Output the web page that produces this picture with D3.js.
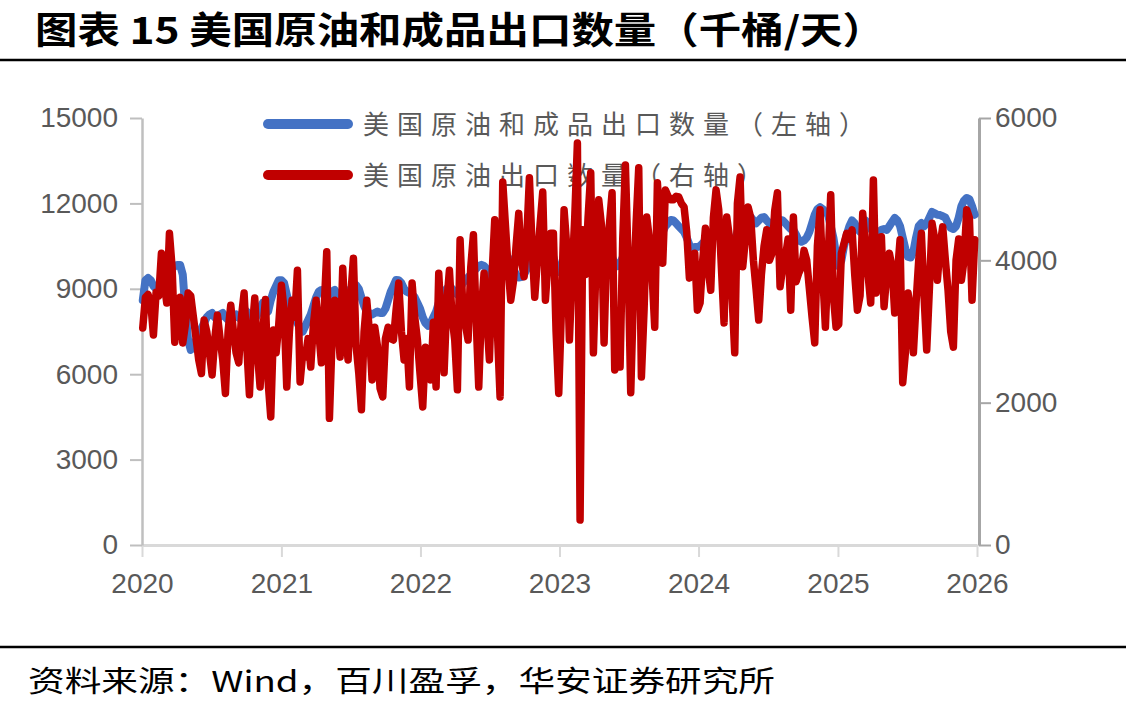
<!DOCTYPE html>
<html><head><meta charset="utf-8">
<script src="https://cdn.jsdelivr.net/npm/d3@7"></script>
<style>body{margin:0;background:#fff}svg{display:block}</style>
</head><body><svg id="c" width="1126" height="714"></svg>
<script>
// ---------- data (thousand barrels / day, weekly from first Friday of 2020) ----------
const startDate = "2020-01-03";
const crude2020 = [3050,3480,3520,3400,2950,3550,3500,4100,3700,3400,4380,3900,2850,3300,3480,2840,3100,3540,3500,3200,2900,2600,2410,3160,3000,2700,2390,2900,3230,2900,2600,2130,3000,3370,3000,2700,2560,3200,3540,2800,2110,3000,3470,2700,2220,3000,3450,2300,1800,3020,2700,3100];
const crude2021 = [3650,3300,2220,3000,3440,3200,3860,2290,2700,2640,2900,2500,3100,3440,3000,2560,3300,4120,1780,2900,3440,3200,2640,3890,3000,2600,3500,4030,2800,2420,1900,3000,3440,3000,2320,3060,2800,2200,2080,2900,3060,2900,2880,3300,3680,3000,2600,2900,2220,3680,3200,2880];
const crude2022 = [2400,1940,2780,2600,2320,3130,2220,3820,3100,2420,3400,3860,3200,2880,2180,4290,3350,3100,2880,3900,4360,3200,2220,3300,3820,3200,2600,3800,4570,3000,2080,5100,4500,3900,3440,3700,4200,4660,4000,3770,4300,5160,4200,3480,4000,4500,4960,3440,4000,4380,4380,3000];
const crude2023 = [2130,3300,4710,4200,2880,3800,4600,5650,350,4430,3800,4600,5230,2700,4000,4850,4500,2840,4200,4500,4950,2460,3100,2500,4300,5340,4000,2140,3500,4500,5300,2360,3300,4610,4300,3800,3060,5090,4500,3960,4990,4900,4850,4850,4900,4890,4800,4750,4400,3750,3900,4100];
const crude2024 = [3300,3400,4000,4450,3900,3580,4600,4990,4710,3900,3120,4610,4330,3500,2700,4800,5170,3910,4300,4750,4600,4000,3600,3160,3800,4200,4430,4000,4100,4700,4950,3630,3900,4050,4300,3300,4610,3700,3820,3900,4140,4000,3600,3200,2840,4200,4710,3800,3060,4000,4920,3500];
const crude2025 = [3060,3100,4100,4240,4380,4300,4430,3800,3300,3500,4660,4200,3800,3400,5130,3540,3800,4330,3350,3800,4100,3900,3260,3800,4290,2280,2700,3540,3300,2700,3400,4000,4380,3500,2740,3600,4520,4300,3720,4200,4470,4000,3580,3000,2780,4000,4300,3720,4000,4710,4600,3440,4290];

const total2020 = [8600,9300,9380,9300,9100,9000,9100,9300,9400,9500,9600,9700,9800,9840,9840,9500,8200,7200,6850,7000,7200,7400,7600,7800,8000,8100,8150,8000,7900,8100,8150,8000,7900,7800,8000,8100,8000,7900,8100,8200,8000,7800,7900,8100,8300,8500,8400,8200,8600,8900,9100,9300];
const total2021 = [9300,9200,8800,8400,8300,8000,7800,7600,7500,7700,7900,8100,8400,8700,8900,8960,8900,8800,8700,8900,8960,8800,8700,8600,8700,8900,9000,9100,9130,9000,8700,8400,8200,8150,8100,8150,8200,8150,8150,8300,8600,8900,9100,9310,9300,9200,9000,8900,8850,8800,8700,8500];
const total2022 = [8300,8000,7800,7700,7800,8000,8200,8500,8700,8900,9000,9100,9000,8900,8800,9000,9200,9300,9400,9500,9600,9700,9800,9840,9800,9700,9500,9400,9500,9600,9800,10000,10200,10100,9900,9700,9500,9400,9410,9500,9700,9900,10100,10200,10300,10200,10000,9900,10000,10200,10100,9800];
const total2023 = [9600,9700,9800,9900,9800,9700,9900,10000,9700,9500,9800,10100,10200,10100,10000,10100,10200,10000,9900,10000,10100,9900,9800,9900,10100,10200,10100,9900,10000,10200,10300,10100,10000,10200,10400,10500,10600,10900,11100,11000,11200,11300,11420,11400,11300,11200,11100,11000,10800,10540,10400,10470];
const total2024 = [10470,10500,10600,10700,10800,10900,11000,10960,10900,10800,10900,10960,10800,10600,10700,11000,11200,11300,11400,11500,11520,11400,11300,11400,11500,11520,11400,11300,11200,11300,11400,11420,11400,11300,11200,11100,11070,10900,10700,10650,10700,10800,11000,11300,11600,11800,11870,11800,11700,11600,11200,10800];
const total2025 = [10200,9800,10000,10500,10900,11200,11400,11300,11100,11000,11200,11400,11300,11100,11000,10900,11000,11070,11100,11070,11200,11350,11490,11400,11200,10800,10400,10120,10100,10300,10800,11200,11310,11200,11300,11500,11700,11650,11600,11590,11550,11500,11300,11140,11100,11200,11500,11900,12100,12190,12150,11900,11600];

const yearLabels = ["2020","2021","2022","2023","2024","2025","2026"];
const leftTicks = [0,3000,6000,9000,12000,15000];
const rightTicks = [0,2000,4000,6000];
const legendLabels = ["美国原油和成品出口数量（左轴）","美国原油出口数量（右轴）"];
const titleText = "图表 15 美国原油和成品出口数量（千桶/天）";
const sourceText = "资料来源：Wind，百川盈孚，华安证券研究所";

// ---------- build ----------
const crude = [].concat(crude2020,crude2021,crude2022,crude2023,crude2024,crude2025);
const total = [].concat(total2020,total2021,total2022,total2023,total2024,total2025);
const t0 = d3.timeParse("%Y-%m-%d")(startDate);
const dates = crude.map((_,i)=>d3.timeDay.offset(t0, 7*i));
const parseY = d3.timeParse("%Y");
const yearDates = yearLabels.map(parseY);

const svg = d3.select("#c");
const L=142, R=977, T=118, B=545;
const x = d3.scaleTime().domain([yearDates[0], yearDates[yearDates.length-1]]).range([L,R]);
const yL = d3.scaleLinear().domain([0,15000]).range([B,T]);
const yR = d3.scaleLinear().domain([0,6000]).range([B,T]);

const tickFont = "'Liberation Sans', Arial, sans-serif";
const cjk = "'Noto Sans CJK SC', sans-serif";

// title
svg.append("text").attr("x",35).attr("y",44).text(titleText)
  .attr("font-family",cjk).attr("font-weight",700).attr("font-size",37).attr("fill","#000")
  .attr("textLength",850).attr("lengthAdjust","spacingAndGlyphs");
svg.append("line").attr("x1",0).attr("x2",1126).attr("y1",60).attr("y2",60).attr("stroke","#000").attr("stroke-width",2.5);

// footer
svg.append("line").attr("x1",0).attr("x2",1126).attr("y1",647).attr("y2",647).attr("stroke","#000").attr("stroke-width",2.5);
svg.append("text").attr("x",28).attr("y",692).text(sourceText)
  .attr("font-family",cjk).attr("font-size",29).attr("fill","#000")
  .attr("textLength",747).attr("lengthAdjust","spacingAndGlyphs");

// axes
function styleAxis(g, domainColor, domainWidth, fs){
  g.select(".domain").attr("stroke",domainColor).attr("stroke-width",domainWidth);
  g.selectAll(".tick line").attr("stroke",domainColor).attr("stroke-width",2);
  g.selectAll(".tick text").attr("fill","#595959").attr("font-family",tickFont).attr("font-size",fs);
}
const gx = svg.append("g").attr("transform",`translate(0,${B})`)
  .call(d3.axisBottom(x).tickValues(yearDates).tickFormat(d3.timeFormat("%Y")).tickSize(12).tickSizeOuter(0).tickPadding(16));
styleAxis(gx,"#d9d9d9",3,28);
const gl = svg.append("g").attr("transform",`translate(${L},0)`)
  .call(d3.axisLeft(yL).tickValues(leftTicks).tickFormat(d3.format("d")).tickSize(12).tickSizeOuter(0).tickPadding(12));
styleAxis(gl,"#bfbfbf",2.5,28);
const gr = svg.append("g").attr("transform",`translate(${R+2},0)`)
  .call(d3.axisRight(yR).tickValues(rightTicks).tickFormat(d3.format("d")).tickSize(12).tickSizeOuter(0).tickPadding(4));
styleAxis(gr,"#a6a6a6",3,28);

// legend
const colors = ["#4472C4","#C00000"];
legendLabels.forEach((lab,i)=>{
  const ly = 124 + i*51;
  svg.append("line").attr("x1",268).attr("x2",348).attr("y1",ly).attr("y2",ly)
    .attr("stroke",colors[i]).attr("stroke-width",10).attr("stroke-linecap","round");
  svg.append("text").attr("x",363).attr("y",ly+10).text(lab)
    .attr("font-family",cjk).attr("font-size",26).attr("fill","#595959")
    .attr("letter-spacing",8);
});

// lines
const lineTotal = d3.line().x((d,i)=>x(dates[i])).y(d=>yL(d));
const lineCrude = d3.line().x((d,i)=>x(dates[i])).y(d=>yR(d));
svg.append("path").datum(total).attr("d",lineTotal).attr("fill","none")
  .attr("stroke",colors[0]).attr("stroke-width",8).attr("stroke-linejoin","round").attr("stroke-linecap","round");
svg.append("path").datum(crude).attr("d",lineCrude).attr("fill","none")
  .attr("stroke",colors[1]).attr("stroke-width",7.5).attr("stroke-linejoin","round").attr("stroke-linecap","round");
</script></body></html>
